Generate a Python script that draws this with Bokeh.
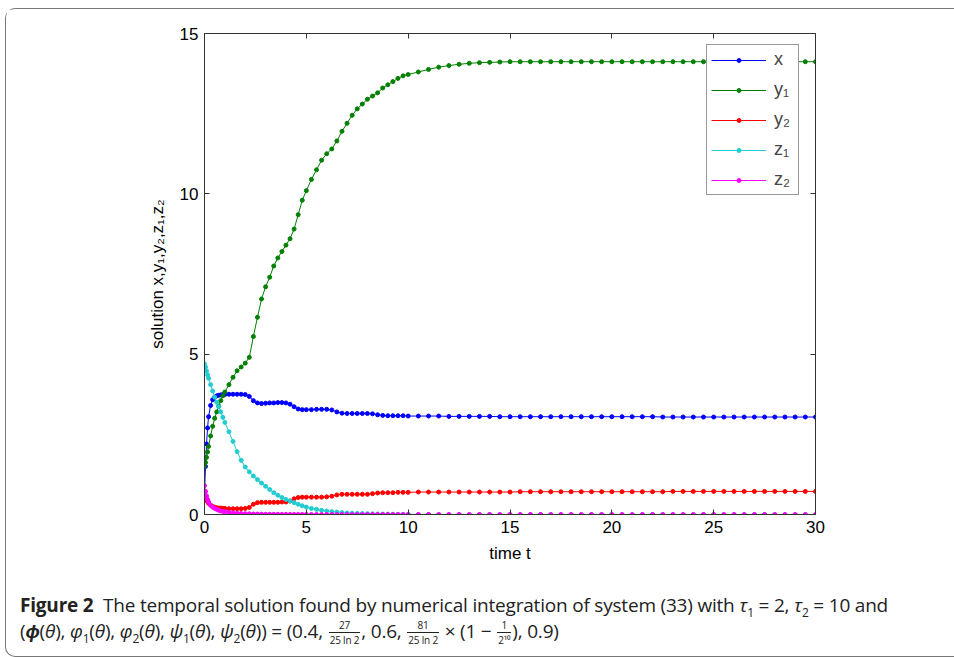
from bokeh.plotting import figure
from bokeh.models import (Range1d, LinearAxis, Legend, LegendItem, Div, FixedTicker)
from bokeh.layouts import column
from bokeh.embed import file_html
from bokeh.resources import INLINE

# ---------------- data ----------------
t = [0, 0.05, 0.1, 0.15, 0.2, 0.3, 0.4, 0.5, 0.6, 0.7, 0.8, 0.9,
     1.0, 1.2, 1.4, 1.6, 1.8, 2.0, 2.2, 2.4, 2.6, 2.8, 3.0, 3.2, 3.4, 3.6, 3.8,
     4.0, 4.2, 4.4, 4.6, 4.8, 5.0,
     5.25, 5.5, 5.75, 6.0, 6.25, 6.5, 6.75, 7.0, 7.25, 7.5, 7.75, 8.0, 8.25,
     8.5, 8.75, 9.0, 9.25, 9.5, 9.75, 10.0,
     10.5, 11.0, 11.5, 12.0, 12.5, 13.0, 13.5, 14.0, 14.5, 15.0, 15.5, 16.0,
     16.5, 17.0, 17.5, 18.0, 18.5, 19.0, 19.5, 20.0, 20.5, 21.0, 21.5, 22.0,
     22.5, 23.0, 23.5, 24.0, 24.5, 25.0, 25.5, 26.0, 26.5, 27.0, 27.5, 28.0,
     28.5, 29.0, 29.5, 30.0]

x_vals = [0.7, 1.5, 2.2, 2.7, 3.05, 3.4, 3.58, 3.66, 3.70, 3.72, 3.73, 3.74,
          3.74, 3.75, 3.75, 3.75, 3.75, 3.74, 3.68, 3.55, 3.48, 3.46, 3.47, 3.48,
          3.48, 3.49, 3.49, 3.48, 3.44, 3.36, 3.29, 3.27, 3.27,
          3.27, 3.28, 3.28, 3.28, 3.26, 3.20, 3.16, 3.15, 3.15, 3.15, 3.15, 3.15,
          3.14, 3.11, 3.09, 3.08, 3.08, 3.08, 3.08, 3.07,
          3.07, 3.07, 3.07, 3.06, 3.06, 3.06, 3.06, 3.06, 3.05, 3.05, 3.05, 3.05,
          3.05, 3.05, 3.05, 3.05, 3.05, 3.05, 3.05, 3.05, 3.05, 3.05, 3.05, 3.05,
          3.04, 3.04, 3.04, 3.04, 3.04, 3.04, 3.04, 3.04, 3.04, 3.04, 3.04, 3.04,
          3.04, 3.04, 3.04, 3.04]

y1_vals = [1.5, 1.62, 1.78, 1.95, 2.12, 2.45, 2.75, 3.0, 3.2, 3.38, 3.55, 3.7,
           3.82, 4.05, 4.28, 4.48, 4.6, 4.72, 4.9, 5.55, 6.15, 6.72, 7.1, 7.4,
           7.75, 8.0, 8.2, 8.4, 8.6, 8.9, 9.35, 9.8, 10.1,
           10.45, 10.75, 11.05, 11.25, 11.4, 11.65, 11.95, 12.2, 12.45, 12.65,
           12.8, 12.95, 13.05, 13.15, 13.3, 13.4, 13.5, 13.6, 13.68, 13.72,
           13.8, 13.88, 13.95, 14.0, 14.04, 14.07, 14.09, 14.1, 14.11, 14.12,
           14.12, 14.12, 14.12, 14.12, 14.12, 14.12, 14.12, 14.12, 14.12, 14.12,
           14.12, 14.12, 14.12, 14.12, 14.12, 14.12, 14.12, 14.12, 14.12, 14.12,
           14.12, 14.12, 14.12, 14.12, 14.12, 14.12, 14.12, 14.12, 14.12, 14.12]

y2_vals = [0.55, 0.5, 0.45, 0.4, 0.35, 0.29, 0.25, 0.23, 0.21, 0.2, 0.2, 0.19,
           0.19, 0.18, 0.18, 0.18, 0.18, 0.19, 0.22, 0.32, 0.37, 0.38, 0.38, 0.38,
           0.38, 0.38, 0.39, 0.39, 0.42, 0.49, 0.53, 0.54, 0.54,
           0.54, 0.54, 0.54, 0.55, 0.57, 0.61, 0.63, 0.63, 0.63, 0.63, 0.63, 0.63,
           0.65, 0.67, 0.68, 0.68, 0.68, 0.69, 0.69, 0.69,
           0.70, 0.70, 0.70, 0.70, 0.70, 0.70, 0.70, 0.70, 0.70, 0.70, 0.71, 0.71,
           0.71, 0.71, 0.71, 0.71, 0.71, 0.71, 0.71, 0.71, 0.71, 0.71, 0.71, 0.71,
           0.71, 0.72, 0.72, 0.72, 0.72, 0.72, 0.72, 0.72, 0.72, 0.72, 0.72, 0.72,
           0.72, 0.72, 0.72, 0.72]

z1_vals = [4.7, 4.6, 4.48, 4.36, 4.25, 4.05, 3.85, 3.66, 3.5, 3.36, 3.2, 3.03,
           2.87, 2.58, 2.28, 1.96, 1.69, 1.48, 1.33, 1.2, 1.09, 0.98, 0.88, 0.78,
           0.68, 0.6, 0.53, 0.47, 0.42, 0.37, 0.32, 0.27, 0.23,
           0.19, 0.16, 0.13, 0.11, 0.09, 0.075, 0.06, 0.05, 0.04, 0.035, 0.03,
           0.025, 0.02, 0.016, 0.013, 0.01, 0.008, 0.006, 0.005, 0.004,
           0.003, 0.002, 0.002, 0.001, 0.001, 0.0, 0.0, 0.0, 0.0, 0.0, 0.0, 0.0,
           0.0, 0.0, 0.0, 0.0, 0.0, 0.0, 0.0, 0.0, 0.0, 0.0, 0.0, 0.0,
           0.0, 0.0, 0.0, 0.0, 0.0, 0.0, 0.0, 0.0, 0.0, 0.0, 0.0, 0.0,
           0.0, 0.0, 0.0, 0.0]

z2_vals = [0.9, 0.72, 0.58, 0.47, 0.39, 0.29, 0.23, 0.19, 0.16, 0.13, 0.11, 0.1,
           0.085, 0.065, 0.05, 0.04, 0.03, 0.025, 0.02, 0.015, 0.012, 0.01, 0.008,
           0.006, 0.005, 0.004, 0.003, 0.003, 0.002, 0.002, 0.001, 0.001, 0.001,
           0.0, 0.0, 0.0, 0.0, 0.0, 0.0, 0.0, 0.0, 0.0, 0.0, 0.0, 0.0, 0.0, 0.0,
           0.0, 0.0, 0.0, 0.0, 0.0, 0.0,
           0.0, 0.0, 0.0, 0.0, 0.0, 0.0, 0.0, 0.0, 0.0, 0.0, 0.0, 0.0,
           0.0, 0.0, 0.0, 0.0, 0.0, 0.0, 0.0, 0.0, 0.0, 0.0, 0.0, 0.0,
           0.0, 0.0, 0.0, 0.0, 0.0, 0.0, 0.0, 0.0, 0.0, 0.0, 0.0, 0.0,
           0.0, 0.0, 0.0, 0.0]

series_labels = ["x", "y\u2081", "y\u2082", "z\u2081", "z\u2082"]
series_colors = ["#0000FF", "#008000", "#FF0000", "#22CCD0", "#FF00FF"]
series_values = [x_vals, y1_vals, y2_vals, z1_vals, z2_vals]

x_ticks = [0, 5, 10, 15, 20, 25, 30]
y_ticks = [0, 5, 10, 15]

FONT = "Liberation Sans"
AX = "#333333"

# ---------------- figure ----------------
p = figure(width=946, height=582, x_range=Range1d(0, 30), y_range=Range1d(0, 15),
           output_backend="svg", toolbar_location=None,
           min_border_left=198, min_border_right=137, min_border_top=24,
           min_border_bottom=77, background_fill_color="white",
           border_fill_color="white", outline_line_color=AX)
p.grid.visible = False

for ax in [p.xaxis[0], p.yaxis[0]]:
    ax.axis_line_color = AX
    ax.major_tick_line_color = AX
    ax.major_tick_in = 5
    ax.major_tick_out = 0
    ax.minor_tick_line_color = None
    ax.major_label_text_font = FONT
    ax.major_label_text_font_size = "17px"
    ax.major_label_text_color = "#000000"
    ax.axis_label_text_font = FONT
    ax.axis_label_text_font_size = "17px"
    ax.axis_label_text_font_style = "normal"
    ax.axis_label_text_color = "#000000"
    ax.major_label_standoff = 6

p.xaxis.ticker = FixedTicker(ticks=x_ticks)
p.yaxis.ticker = FixedTicker(ticks=y_ticks)
p.xaxis.axis_label = "time t"
p.xaxis.axis_label_standoff = 8
p.yaxis.axis_label = "solution x,y\u2081,y\u2082,z\u2081,z\u2082"
p.yaxis.axis_label_standoff = 10

# mirrored ticks on top / right
top = LinearAxis(ticker=FixedTicker(ticks=x_ticks), major_label_text_color=None,
                 axis_line_color=AX, major_tick_line_color=AX, major_tick_in=5,
                 major_tick_out=0, minor_tick_line_color=None)
right = LinearAxis(ticker=FixedTicker(ticks=y_ticks), major_label_text_color=None,
                   axis_line_color=AX, major_tick_line_color=AX, major_tick_in=5,
                   major_tick_out=0, minor_tick_line_color=None)
p.add_layout(top, "above")
p.add_layout(right, "right")

items = []
for lab, col, vals in zip(series_labels, series_colors, series_values):
    ln = p.line(t, vals, line_color=col, line_width=1)
    sc = p.scatter(t, vals, marker="circle", size=4, fill_color=col, line_color=col)
    items.append(LegendItem(label=lab, renderers=[ln, sc]))

legend = Legend(items=items, location=(502, 319), border_line_color=AX,
                border_line_width=1, background_fill_color="white",
                background_fill_alpha=1.0, glyph_width=55, glyph_height=10,
                label_height=20, label_text_font=FONT, label_text_font_size="18px",
                label_standoff=8, spacing=9, padding=4, margin=0)
p.add_layout(legend)

# ---------------- caption ----------------
def frac(n, d):
    return ('<span style="display:inline-flex;flex-direction:column;'
            'vertical-align:middle;font-size:10px;line-height:14px;'
            'text-align:center;margin:0 1px;">'
            '<span style="border-bottom:1px solid #222;padding:0 1px;">%s</span>'
            '<span style="padding:0 1px;">%s</span></span>' % (n, d))

sub = lambda s: '<sub style="font-size:12px;line-height:0;">%s</sub>' % s

caption_html = (
    '<div style="font-family:\'Open Sans\',sans-serif;letter-spacing:-0.2px;'
    'font-size:19px;color:#222;padding-left:9px;padding-top:0px;margin-top:-2px;">'
    '<div style="line-height:22px;height:22px;">'
    '<b>Figure 2</b>&nbsp; The temporal solution found by numerical integration '
    'of system (33) with <i>&tau;</i>' + sub('1') + ' = 2, <i>&tau;</i>' + sub('2') +
    ' = 10 and</div>'
    '<div style="line-height:30px;height:30px;">'
    '(<b><i>&#981;</i></b>(<i>&theta;</i>), <i>&phi;</i>' + sub('1') +
    '(<i>&theta;</i>), <i>&phi;</i>' + sub('2') + '(<i>&theta;</i>), <i>&psi;</i>' +
    sub('1') + '(<i>&theta;</i>), <i>&psi;</i>' + sub('2') + '(<i>&theta;</i>)) = (0.4, ' +
    frac('27', '25 ln 2') + ', 0.6, ' + frac('81', '25 ln 2') + ' &times; (1 &minus; ' +
    frac('1', '2\u00b9\u2070') + '), 0.9)'
    '</div></div>')

cap = Div(text=caption_html, width=946, height=55)

root = column(p, cap, margin=(8, 0, 0, 5),
              styles={"border-left": "1.5px solid #777",
                      "border-top": "1.5px solid #777",
                      "border-bottom": "1.5px solid #777",
                      "border-top-left-radius": "10px",
                      "border-bottom-left-radius": "10px"})

open("out.html", "w").write(file_html(root, INLINE))
